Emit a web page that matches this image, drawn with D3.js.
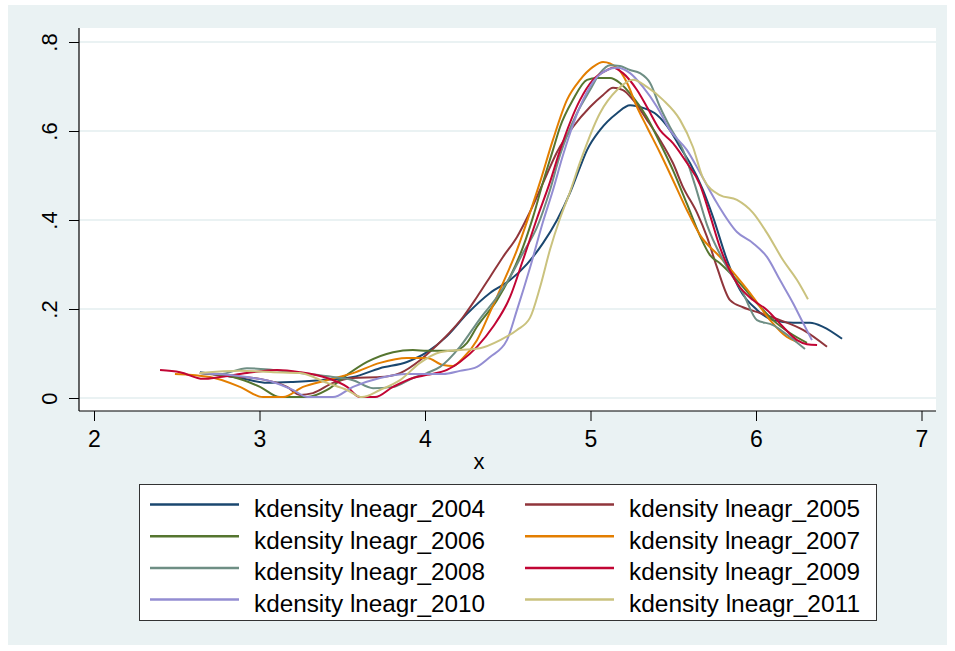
<!DOCTYPE html>
<html>
<head>
<meta charset="utf-8">
<script src="https://cdn.jsdelivr.net/npm/d3@7"></script>
<style>
  body { margin: 0; background: #fff; }
  text { font-family: Arial, "Liberation Sans", sans-serif; fill: #000; }
</style>
</head>
<body>
<div class="chart"></div>
<script>
'use strict';

// Kernel density estimates, [x, density]
var kd2004 = [[2.640,0.058],[2.882,0.045],[3.045,0.034],[3.202,0.036],[3.366,0.040],[3.565,0.047],[3.728,0.067],[3.891,0.081],[4.012,0.103],[4.133,0.139],[4.254,0.189],[4.393,0.236],[4.514,0.265],[4.616,0.301],[4.713,0.348],[4.798,0.400],[4.876,0.461],[4.937,0.519],[4.979,0.557],[5.057,0.602],[5.160,0.640],[5.239,0.658],[5.317,0.652],[5.402,0.636],[5.480,0.602],[5.541,0.564],[5.601,0.528],[5.680,0.467],[5.740,0.407],[5.825,0.310],[5.903,0.243],[6.006,0.198],[6.103,0.175],[6.224,0.169],[6.326,0.169],[6.405,0.160],[6.520,0.133]];
var kd2005 = [[2.640,0.056],[2.822,0.049],[3.003,0.043],[3.166,0.025],[3.245,0.007],[3.323,0.011],[3.444,0.034],[3.565,0.045],[3.728,0.047],[3.849,0.056],[3.970,0.085],[4.073,0.119],[4.151,0.148],[4.230,0.182],[4.314,0.227],[4.393,0.272],[4.471,0.317],[4.556,0.362],[4.634,0.418],[4.713,0.483],[4.798,0.553],[4.894,0.609],[4.997,0.654],[5.076,0.681],[5.136,0.697],[5.196,0.692],[5.257,0.670],[5.341,0.625],[5.420,0.580],[5.498,0.528],[5.559,0.474],[5.644,0.416],[5.704,0.362],[5.764,0.294],[5.843,0.220],[5.921,0.204],[6.024,0.191],[6.145,0.175],[6.284,0.153],[6.429,0.115]];
var kd2006 = [[2.640,0.056],[2.840,0.047],[3.003,0.025],[3.124,0.002],[3.287,0.002],[3.408,0.018],[3.529,0.052],[3.650,0.081],[3.807,0.103],[3.927,0.108],[4.012,0.106],[4.169,0.106],[4.254,0.124],[4.314,0.160],[4.435,0.220],[4.514,0.272],[4.592,0.339],[4.653,0.407],[4.713,0.485],[4.773,0.557],[4.816,0.609],[4.894,0.670],[4.979,0.715],[5.039,0.719],[5.118,0.719],[5.178,0.708],[5.257,0.676],[5.341,0.631],[5.420,0.573],[5.498,0.512],[5.583,0.436],[5.662,0.364],[5.722,0.321],[5.782,0.303],[5.885,0.265],[6.006,0.213],[6.103,0.175],[6.205,0.146],[6.308,0.124]];
var kd2007 = [[2.489,0.054],[2.701,0.047],[2.882,0.025],[3.021,0.002],[3.142,0.002],[3.263,0.025],[3.408,0.040],[3.565,0.056],[3.728,0.079],[3.891,0.090],[4.012,0.090],[4.109,0.074],[4.169,0.072],[4.230,0.090],[4.314,0.130],[4.393,0.193],[4.471,0.258],[4.556,0.333],[4.634,0.416],[4.695,0.485],[4.773,0.580],[4.858,0.670],[4.937,0.715],[5.015,0.744],[5.076,0.755],[5.160,0.742],[5.221,0.708],[5.281,0.654],[5.341,0.609],[5.420,0.551],[5.498,0.490],[5.583,0.422],[5.662,0.366],[5.782,0.317],[5.885,0.272],[5.982,0.227],[6.085,0.175],[6.187,0.137],[6.248,0.126]];
var kd2008 = [[2.640,0.056],[2.761,0.054],[2.924,0.067],[3.082,0.063],[3.245,0.056],[3.444,0.047],[3.565,0.040],[3.686,0.022],[3.807,0.025],[3.927,0.045],[4.012,0.056],[4.091,0.070],[4.211,0.115],[4.332,0.178],[4.435,0.227],[4.514,0.272],[4.592,0.326],[4.677,0.384],[4.755,0.467],[4.816,0.546],[4.918,0.640],[4.997,0.692],[5.057,0.730],[5.118,0.748],[5.178,0.746],[5.239,0.737],[5.299,0.730],[5.360,0.708],[5.420,0.654],[5.480,0.609],[5.559,0.557],[5.631,0.479],[5.704,0.389],[5.825,0.294],[5.921,0.236],[6.006,0.175],[6.103,0.164],[6.205,0.137],[6.296,0.110]];
var kd2009 = [[2.399,0.063],[2.520,0.058],[2.659,0.043],[2.761,0.047],[2.924,0.056],[3.106,0.063],[3.245,0.058],[3.408,0.045],[3.529,0.025],[3.607,0.002],[3.698,0.002],[3.807,0.025],[3.927,0.045],[4.012,0.052],[4.133,0.063],[4.211,0.081],[4.314,0.115],[4.411,0.160],[4.514,0.227],[4.592,0.310],[4.677,0.404],[4.755,0.485],[4.816,0.557],[4.937,0.670],[5.015,0.715],[5.100,0.737],[5.136,0.742],[5.196,0.730],[5.281,0.692],[5.341,0.654],[5.420,0.602],[5.498,0.573],[5.583,0.528],[5.662,0.479],[5.722,0.411],[5.782,0.339],[5.885,0.258],[5.982,0.220],[6.066,0.198],[6.163,0.160],[6.248,0.130],[6.308,0.121],[6.369,0.119]];
var kd2010 = [[2.640,0.056],[2.804,0.052],[2.924,0.047],[3.082,0.036],[3.202,0.018],[3.293,0.002],[3.444,0.002],[3.565,0.025],[3.728,0.045],[3.891,0.054],[4.012,0.054],[4.109,0.054],[4.211,0.061],[4.314,0.070],[4.393,0.092],[4.495,0.130],[4.556,0.198],[4.634,0.292],[4.713,0.396],[4.773,0.467],[4.834,0.546],[4.955,0.670],[5.039,0.721],[5.100,0.737],[5.160,0.742],[5.239,0.730],[5.317,0.699],[5.402,0.654],[5.480,0.602],[5.583,0.557],[5.662,0.506],[5.764,0.438],[5.885,0.373],[5.982,0.348],[6.066,0.317],[6.145,0.265],[6.224,0.213],[6.284,0.169],[6.338,0.130]];
var kd2011 = [[2.640,0.056],[2.882,0.061],[3.082,0.058],[3.245,0.056],[3.408,0.034],[3.529,0.018],[3.619,0.002],[3.728,0.018],[3.849,0.040],[3.970,0.079],[4.091,0.103],[4.211,0.108],[4.332,0.112],[4.453,0.130],[4.556,0.153],[4.634,0.180],[4.695,0.249],[4.755,0.333],[4.816,0.404],[4.876,0.463],[4.937,0.530],[5.057,0.640],[5.160,0.692],[5.257,0.715],[5.341,0.699],[5.438,0.670],[5.541,0.625],[5.619,0.564],[5.680,0.494],[5.782,0.456],[5.885,0.445],[5.982,0.416],[6.066,0.371],[6.163,0.310],[6.248,0.265],[6.314,0.222]];

var SERIES = [kd2004, kd2005, kd2006, kd2007, kd2008, kd2009, kd2010, kd2011];
var YEARS = ['2004', '2005', '2006', '2007', '2008', '2009', '2010', '2011'];
var COLORS = ['#1a476f', '#90353b', '#55752f', '#e37e00', '#6e8e84', '#c10534', '#938dd2', '#cac27e'];
var X_TICKS = [2, 3, 4, 5, 6, 7];
var Y_TICKS = [0, 0.2, 0.4, 0.6, 0.8];

var BG = '#eaf2f3';
var width = 955, height = 651;
var plot = { left: 79, right: 936, top: 28, bottom: 411 };

var svg = d3.select('.chart').append('svg')
  .attr('width', width)
  .attr('height', height);

// graph region
svg.append('rect')
  .attr('x', 8).attr('y', 5)
  .attr('width', 939).attr('height', 640)
  .attr('fill', BG);

// plot region
svg.append('rect')
  .attr('x', plot.left).attr('y', plot.top)
  .attr('width', plot.right - plot.left).attr('height', plot.bottom - plot.top)
  .attr('fill', '#fff');

var x = d3.scaleLinear().domain([2, 7]).range([94, 921.5]);
var y = d3.scaleLinear().domain([0, 0.8]).range([398, 42]);

// grid lines
svg.append('g')
  .selectAll('line')
  .data(Y_TICKS)
  .enter()
  .append('line')
  .attr('x1', plot.left).attr('x2', plot.right)
  .attr('y1', function(d) { return y(d); })
  .attr('y2', function(d) { return y(d); })
  .attr('stroke', BG)
  .attr('stroke-width', 2);

// density curves
var line = d3.line()
  .x(function(d) { return x(d[0]); })
  .y(function(d) { return y(d[1]); })
  .curve(d3.curveMonotoneX);

svg.append('g')
  .selectAll('path')
  .data(SERIES)
  .enter()
  .append('path')
  .attr('d', line)
  .attr('fill', 'none')
  .attr('stroke', function(d, i) { return COLORS[i]; })
  .attr('stroke-width', 2)
  .attr('stroke-linejoin', 'round');

// axes
var xAxis = svg.append('g')
  .attr('transform', 'translate(0,' + plot.bottom + ')')
  .call(d3.axisBottom(x).tickValues(X_TICKS).tickSize(10).tickSizeOuter(0).tickFormat(d3.format('d')));
xAxis.select('.domain').remove();
xAxis.selectAll('.tick line').attr('stroke', '#000');
xAxis.selectAll('.tick text')
  .attr('y', 36).attr('dy', null)
  .style('font-size', '23px');

var yAxis = svg.append('g')
  .attr('transform', 'translate(' + plot.left + ',0)')
  .call(d3.axisLeft(y).tickValues(Y_TICKS).tickSize(10).tickSizeOuter(0)
    .tickFormat(function(d) { return d === 0 ? '0' : String(d).replace('0.', '.'); }));
yAxis.select('.domain').remove();
yAxis.selectAll('.tick line').attr('stroke', '#000');
yAxis.selectAll('.tick text')
  .attr('x', 0).attr('dy', null)
  .attr('text-anchor', 'middle')
  .attr('transform', 'translate(-22,0) rotate(-90)')
  .style('font-size', '22px');

svg.append('line')
  .attr('x1', plot.left).attr('x2', plot.left)
  .attr('y1', plot.top).attr('y2', plot.bottom)
  .attr('stroke', '#000').attr('stroke-width', 1.2);
svg.append('line')
  .attr('x1', plot.left).attr('x2', plot.right)
  .attr('y1', plot.bottom).attr('y2', plot.bottom)
  .attr('stroke', '#000').attr('stroke-width', 1.2);

svg.append('text')
  .attr('x', 479).attr('y', 469)
  .attr('text-anchor', 'middle')
  .style('font-size', '22px')
  .text('x');

// legend
var legend = svg.append('g');
legend.append('rect')
  .attr('x', 139.5).attr('y', 484.5)
  .attr('width', 737).attr('height', 136)
  .attr('fill', '#fff')
  .attr('stroke', '#333')
  .attr('stroke-width', 1);

var items = legend.selectAll('g.item')
  .data(YEARS)
  .enter()
  .append('g')
  .attr('class', 'item')
  .attr('transform', function(d, i) {
    return 'translate(' + (i % 2 === 0 ? 150 : 525) + ',' + (504.5 + Math.floor(i / 2) * 31.7) + ')';
  });

items.append('line')
  .attr('x1', 0).attr('x2', 89)
  .attr('y1', 0).attr('y2', 0)
  .attr('stroke', function(d, i) { return COLORS[i]; })
  .attr('stroke-width', 2.5);

items.append('text')
  .attr('x', 104).attr('y', 12.5)
  .attr('textLength', 231)
  .attr('lengthAdjust', 'spacingAndGlyphs')
  .style('font-size', '23px')
  .text(function(d) { return 'kdensity lneagr_' + d; });
</script>
</body>
</html>
